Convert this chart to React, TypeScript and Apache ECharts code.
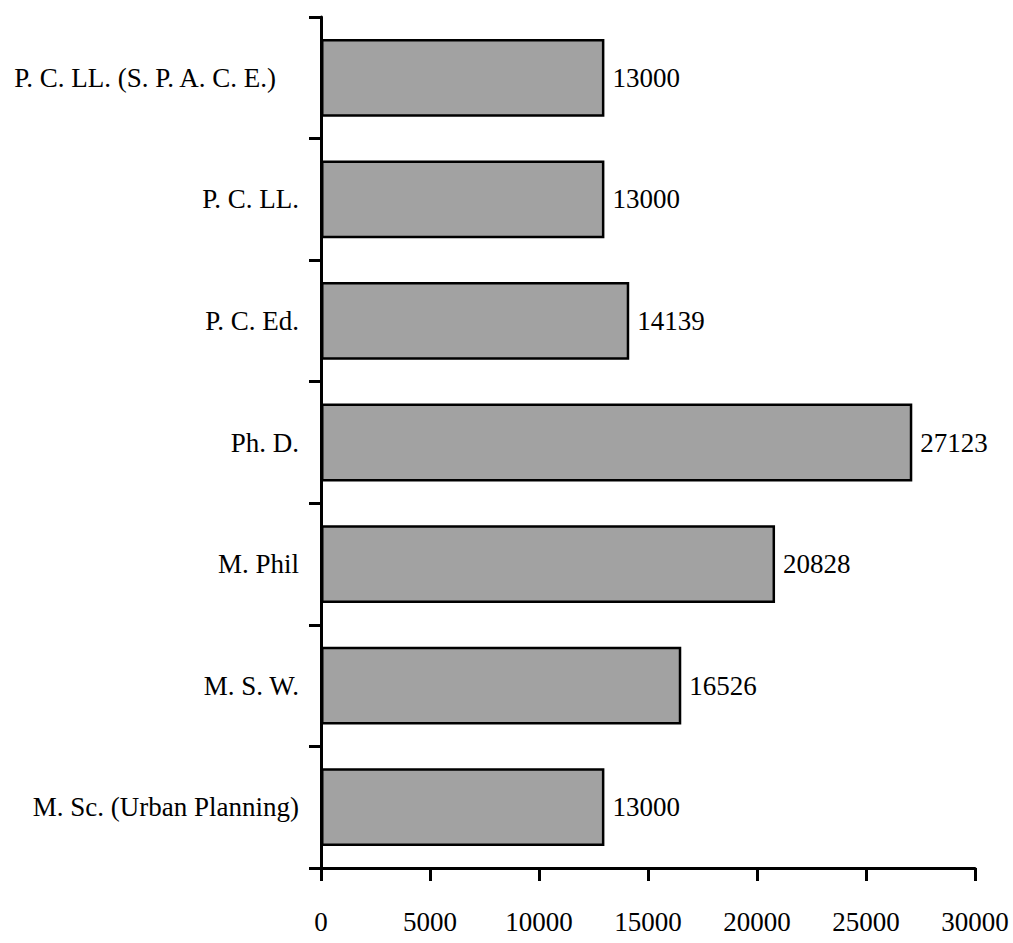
import React, { useEffect, useRef } from "react";
import * as echarts from "echarts";

const categories = [
  "P. C. LL. (S. P. A. C. E.)",
  "P. C. LL.",
  "P. C. Ed.",
  "Ph. D.",
  "M. Phil",
  "M. S. W.",
  "M. Sc. (Urban Planning)",
];
const values = [13000, 13000, 14139, 27123, 20828, 16526, 13000];
const xTicks = [0, 5000, 10000, 15000, 20000, 25000, 30000];

const FONT = "'Liberation Serif', 'Times New Roman', serif";

export default function App() {
  const ref = useRef<HTMLDivElement>(null);
  useEffect(() => {
    if (!ref.current) return;
    const chart = echarts.init(ref.current, undefined, { renderer: "svg" });
    const xMin = xTicks[0];
    const xMax = xTicks[xTicks.length - 1];
    const step = xTicks[1] - xTicks[0];
    const tickStyle = { color: "#000", width: 3 };
    chart.setOption({
      animation: false,
      backgroundColor: "#ffffff",
      grid: { left: 321, right: 38, top: 17, bottom: 75, containLabel: false },
      xAxis: {
        type: "value",
        min: xMin,
        max: xMax,
        interval: step,
        axisLine: { show: true, lineStyle: { color: "#000", width: 3 } },
        axisTick: { show: true, length: 13, lineStyle: tickStyle },
        axisLabel: {
          color: "#000",
          fontFamily: FONT,
          fontSize: 27,
          margin: 40,
          formatter: (v: number) => String(v),
        },
        splitLine: { show: false },
      },
      yAxis: {
        type: "category",
        data: categories,
        inverse: true,
        axisLine: { show: true, lineStyle: { color: "#000", width: 3 } },
        axisTick: { show: true, length: 12, lineStyle: tickStyle },
        axisLabel: {
          color: "#000",
          fontFamily: FONT,
          fontSize: 27,
          margin: 22,
          formatter: (v: string, i: number) => (i === 0 ? `{p|${v}}` : `{n|${v}}`),
          rich: {
            p: { fontFamily: FONT, fontSize: 27, color: "#000", padding: [0, 23, 0, 0] },
            n: { fontFamily: FONT, fontSize: 27, color: "#000" },
          },
        },
        splitLine: { show: false },
      },
      series: [
        {
          type: "bar",
          data: values,
          barWidth: "64%",
          itemStyle: { color: "#a2a2a2", borderColor: "#000", borderWidth: 2.5 },
          label: {
            show: true,
            position: "right",
            distance: 8,
            color: "#000",
            fontFamily: FONT,
            fontSize: 27,
          },
        },
      ],
    });
    return () => chart.dispose();
  }, []);
  return (
    <div
      ref={ref}
      style={{ position: "absolute", left: 0, top: 0, width: 1013, height: 943, background: "#fff" }}
    />
  );
}
